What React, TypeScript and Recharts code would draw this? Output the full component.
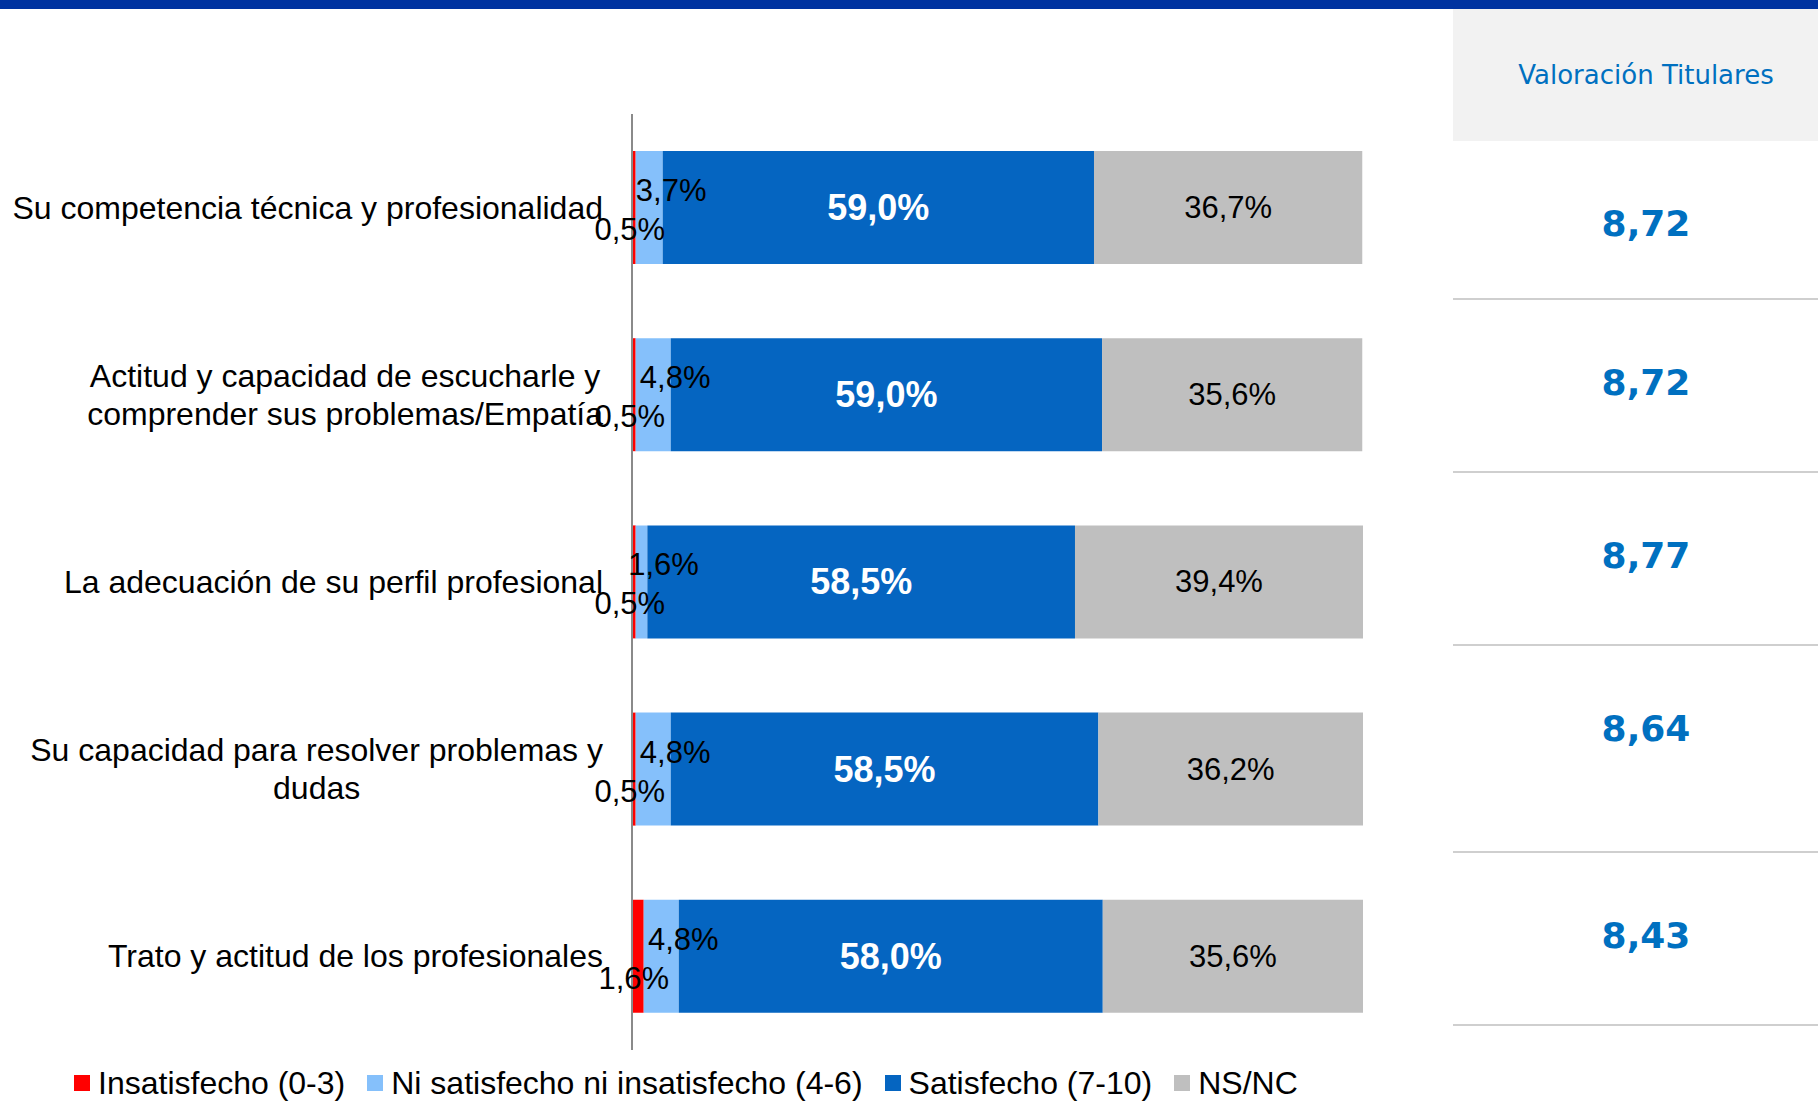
import React from 'react'
import { BarChart, Bar, XAxis, YAxis, Legend, LabelList } from 'recharts'

// Valoración de los profesionales (porcentajes por categoría)
const categories = [
  'Su competencia técnica y profesionalidad',
  'Actitud y capacidad de escucharle y\ncomprender sus problemas/Empatía',
  'La adecuación de su perfil profesional',
  'Su capacidad para resolver problemas y\ndudas',
  'Trato y actitud de los profesionales',
]
const insatisfecho = [0.5, 0.5, 0.5, 0.5, 1.6]
const niSatisfecho = [3.7, 4.8, 1.6, 4.8, 4.8]
const satisfecho = [59.0, 59.0, 58.5, 58.5, 58.0]
const nsnc = [36.7, 35.6, 39.4, 36.2, 35.6]
const valoracionTitulares = [8.72, 8.72, 8.77, 8.64, 8.43]

const seriesNames = [
  'Insatisfecho (0-3)',
  'Ni satisfecho ni insatisfecho (4-6)',
  'Satisfecho (7-10)',
  'NS/NC',
]
const seriesColors = ['#ff0000', '#85c0fb', '#0565c1', '#bfbfbf']

const chartData = categories.map((name, i) => ({
  name,
  insatisfecho: insatisfecho[i],
  niSatisfecho: niSatisfecho[i],
  satisfecho: satisfecho[i],
  nsnc: nsnc[i],
}))

const ARIAL = '"Liberation Sans", Arial, sans-serif'
const VERDANA = '"DejaVu Sans", Verdana, sans-serif'

const pct = (v: number) => `${v.toFixed(1).replace('.', ',')}%`

// medir texto para centrar etiquetas de varias líneas
let measureCtx: CanvasRenderingContext2D | null = null
function textWidth(text: string, font: string) {
  if (!measureCtx) measureCtx = document.createElement('canvas').getContext('2d')
  if (!measureCtx) return text.length * 15
  measureCtx.font = font
  return measureCtx.measureText(text).width
}

function CategoryTick(props: any) {
  const { x, y, payload } = props
  const lines: string[] = String(payload.value).split('\n')
  const maxW = Math.max(...lines.map((l) => textWidth(l, `32px ${ARIAL}`)))
  const cx = x - maxW / 2
  const lineH = 38
  const startY = y - ((lines.length - 1) * lineH) / 2
  return (
    <text fontFamily={ARIAL} fontSize={32} fill="#000" textAnchor="middle">
      {lines.map((l, i) => (
        <tspan key={i} x={cx} y={startY + i * lineH} dominantBaseline="central">
          {l}
        </tspan>
      ))}
    </text>
  )
}

const makeLabel = (opts: { dx: number; dy: number; color: string; size: number; bold?: boolean }) =>
  (props: any) => {
    const { x, y, width, height, value } = props
    return (
      <text
        x={Number(x) + Number(width) / 2 + opts.dx}
        y={Number(y) + Number(height) / 2 + opts.dy}
        textAnchor="middle"
        dominantBaseline="central"
        fontFamily={ARIAL}
        fontSize={opts.size}
        fontWeight={opts.bold ? 'bold' : 'normal'}
        fill={opts.color}
      >
        {pct(Number(value))}
      </text>
    )
  }

function LegendContent() {
  return (
    <div style={{ height: 48, paddingTop: 18, paddingLeft: 74, boxSizing: 'border-box', display: 'flex' }}>
      {seriesNames.map((n, i) => (
        <div key={n} style={{ display: 'flex', alignItems: 'center', height: 30, marginRight: 22 }}>
          <span style={{ width: 16, height: 16, background: seriesColors[i], marginRight: 8, display: 'inline-block' }} />
          <span style={{ fontFamily: ARIAL, fontSize: 32, color: '#000', whiteSpace: 'nowrap' }}>{n}</span>
        </div>
      ))}
    </div>
  )
}

function ValoracionPanel() {
  const rowHeights = [159, 173, 173, 207, 173]
  return (
    <div style={{ position: 'absolute', left: 1453, top: 9, width: 386, fontFamily: VERDANA }}>
      <div
        style={{
          height: 132,
          background: '#f2f2f2',
          color: '#0070c0',
          fontSize: 26,
          display: 'flex',
          alignItems: 'center',
          justifyContent: 'center',
        }}
      >
        Valoración Titulares
      </div>
      {valoracionTitulares.map((v, i) => (
        <div
          key={i}
          style={{
            height: rowHeights[i],
            boxSizing: 'border-box',
            borderBottom: '2px solid #cfcfcf',
            paddingTop: 62,
            textAlign: 'center',
            lineHeight: '42px',
            fontSize: 36,
            fontWeight: 'bold',
            color: '#0070c0',
          }}
        >
          {v.toFixed(2).replace('.', ',')}
        </div>
      ))}
    </div>
  )
}

export default function App() {
  return (
    <div style={{ position: 'absolute', left: 0, top: 0, width: 1818, height: 1103, overflow: 'hidden', background: '#fff' }}>
      <div style={{ position: 'absolute', left: 0, top: 0, width: 1818, height: 9, background: '#0033a0' }} />
      <BarChart
        width={1420}
        height={1103}
        data={chartData}
        layout="vertical"
        margin={{ top: 114, right: 57, bottom: 5, left: 0 }}
        barCategoryGap="40%"
      >
        <XAxis type="number" domain={[0, 100]} hide />
        <YAxis
          type="category"
          dataKey="name"
          width={632}
          axisLine={{ stroke: '#8a8a8a', strokeWidth: 2 }}
          tickLine={false}
          tickSize={0}
          tickMargin={29}
          interval={0}
          tick={CategoryTick}
        />
        <Legend verticalAlign="bottom" height={48} wrapperStyle={{ left: 0, width: 1420 }} content={LegendContent} />
        <Bar dataKey="insatisfecho" name={seriesNames[0]} stackId="a" fill={seriesColors[0]} barSize={113} isAnimationActive={false}>
          <LabelList dataKey="insatisfecho" content={makeLabel({ dx: -4, dy: 22, color: '#000', size: 31 })} />
        </Bar>
        <Bar dataKey="niSatisfecho" name={seriesNames[1]} stackId="a" fill={seriesColors[1]} barSize={113} isAnimationActive={false}>
          <LabelList dataKey="niSatisfecho" content={makeLabel({ dx: 22, dy: -17, color: '#000', size: 31 })} />
        </Bar>
        <Bar dataKey="satisfecho" name={seriesNames[2]} stackId="a" fill={seriesColors[2]} barSize={113} isAnimationActive={false}>
          <LabelList dataKey="satisfecho" content={makeLabel({ dx: 0, dy: 0, color: '#fff', size: 36, bold: true })} />
        </Bar>
        <Bar dataKey="nsnc" name={seriesNames[3]} stackId="a" fill={seriesColors[3]} barSize={113} isAnimationActive={false}>
          <LabelList dataKey="nsnc" content={makeLabel({ dx: 0, dy: 0, color: '#000', size: 31 })} />
        </Bar>
      </BarChart>
      <ValoracionPanel />
    </div>
  )
}
